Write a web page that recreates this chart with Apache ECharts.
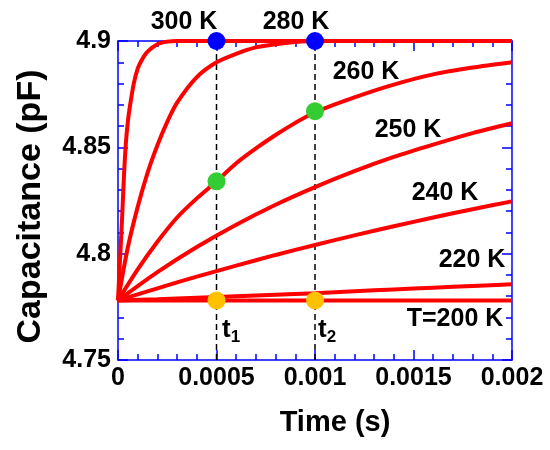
<!DOCTYPE html>
<html>
<head>
<meta charset="utf-8">
<script src="https://cdn.jsdelivr.net/npm/echarts@6/dist/echarts.min.js"></script>
<style>html,body{margin:0;padding:0;background:#fff}#c{width:550px;height:450px}</style>
</head>
<body>
<div id="c"></div>
<script>
// ---- data ----
const xTickLabels = ['0', '0.0005', '0.001', '0.0015', '0.002'];
const yTickLabels = ['4.75', '4.8', '4.85', '4.9'];

const t300 = [0, 0.00001, 0.00002, 0.00003, 0.00004, 0.00005, 0.00006, 0.00008, 0.0001, 0.00012, 0.00015, 0.0002, 0.00025, 0.0003, 0.002];
const c300 = [4.778, 4.797, 4.815, 4.836, 4.852, 4.862, 4.869, 4.880, 4.887, 4.891, 4.895, 4.8985, 4.8997, 4.9, 4.9];

const t280 = [0, 0.00005, 0.0001, 0.00015, 0.0002, 0.00025, 0.0003, 0.0004, 0.0005, 0.0006, 0.0007, 0.0008, 0.0009, 0.001, 0.0012, 0.002];
const c280 = [4.778, 4.803, 4.822, 4.838, 4.851, 4.862, 4.871, 4.883, 4.890, 4.894, 4.897, 4.8985, 4.8995, 4.9, 4.9, 4.9];

const t260 = [0, 0.0001, 0.0002, 0.0003, 0.0004, 0.0005, 0.0006, 0.0007, 0.0008, 0.0009, 0.001, 0.0012, 0.0014, 0.0016, 0.0018, 0.002];
const c260 = [4.778, 4.7926, 4.8056, 4.817, 4.826, 4.834, 4.8425, 4.8495, 4.8558, 4.8615, 4.8665, 4.8735, 4.8795, 4.8843, 4.8875, 4.890];

const t250 = [0, 0.0002, 0.0004, 0.0006, 0.0008, 0.001, 0.0012, 0.0014, 0.0016, 0.0018, 0.002];
const c250 = [4.778, 4.7913, 4.8031, 4.8136, 4.823, 4.8313, 4.8388, 4.8455, 4.8513, 4.8567, 4.8613];

const t240 = [0, 0.0002, 0.0004, 0.0006, 0.0008, 0.001, 0.0012, 0.0014, 0.0016, 0.0018, 0.002];
const c240 = [4.778, 4.7837, 4.7892, 4.7944, 4.7994, 4.8041, 4.8086, 4.8129, 4.817, 4.8209, 4.8246];

const t220 = [0, 0.0002, 0.0004, 0.0006, 0.0008, 0.001, 0.0012, 0.0014, 0.0016, 0.0018, 0.002];
const c220 = [4.778, 4.7786, 4.7793, 4.7800, 4.7807, 4.7814, 4.7823, 4.7832, 4.7840, 4.7848, 4.7856];

const t200 = [0, 0.002];
const c200 = [4.778, 4.778];

const markTimes = [0.0005, 0.001];
const blueVals = [4.9, 4.9];
const greenVals = [4.834, 4.867];
const orangeVals = [4.778, 4.778];

const curveLabels = ['300 K', '280 K', '260 K', '250 K', '240 K', '220 K', 'T=200 K'];
const timeMarkLabels = ['1', '2'];

// ---- chart ----
const FONT = '"Liberation Sans", Arial, sans-serif';
const BLUE = '#0000FF';
const Y_MIN = 4.75, Y_MAX = 4.9;
const zip = (xs, ys) => xs.map((x, i) => [x, ys[i]]);

const curves = [[t200, c200], [t220, c220], [t240, c240], [t250, c250], [t260, c260], [t280, c280], [t300, c300]];

const dashSeries = markTimes.map(tt => ({
  type: 'line',
  data: [[tt, Y_MIN], [tt, Y_MAX]],
  showSymbol: false,
  lineStyle: { color: '#000', type: [6, 4], width: 1.5 },
  z: 2,
  silent: true
}));

const lineSeries = curves.map(([t, c]) => ({
  type: 'line',
  data: zip(t, c),
  showSymbol: false,
  smooth: 0.25,
  lineStyle: { color: '#FF0000', width: 4 },
  z: 3,
  silent: true
}));

function dots(vals, color) {
  return {
    type: 'scatter',
    data: zip(markTimes, vals),
    symbolSize: 18,
    itemStyle: { color: color, opacity: 1 },
    clip: false,
    z: 5
  };
}

const baseX = {
  type: 'value', min: 0, max: 0.002, interval: 0.0005,
  axisLine: { show: true, onZero: false, lineStyle: { color: BLUE, width: 1.5 } },
  axisTick: { show: true, inside: true, length: 10, lineStyle: { color: BLUE, width: 1.5 } },
  minorTick: { show: true, splitNumber: 5, length: 6, lineStyle: { color: BLUE, width: 1.5 } },
  splitLine: { show: false }
};
const baseY = {
  type: 'value', min: Y_MIN, max: Y_MAX, interval: 0.05,
  axisLine: { show: true, onZero: false, lineStyle: { color: BLUE, width: 1.5 } },
  axisTick: { show: true, inside: true, length: 10, lineStyle: { color: BLUE, width: 1.5 } },
  minorTick: { show: true, splitNumber: 5, length: 6, lineStyle: { color: BLUE, width: 1.5 } },
  splitLine: { show: false }
};

const labelPos = [[184, 22], [296, 22], [366, 72], [408, 130], [445, 193], [472, 260], [455, 319]];
const tPos = [[222, 330], [318, 330]];

const graphics = curveLabels.map((s, i) => ({
  type: 'text', x: labelPos[i][0], y: labelPos[i][1], z: 10,
  style: { text: s, fill: '#000', font: 'bold 25px ' + FONT, textAlign: 'center', textVerticalAlign: 'middle' }
}));
timeMarkLabels.forEach((s, i) => {
  graphics.push({
    type: 'text', x: tPos[i][0], y: tPos[i][1], z: 10,
    style: {
      rich: {
        t: { fontSize: 26, fontWeight: 'bold', fontFamily: FONT, fill: '#000' },
        s: { fontSize: 17, fontWeight: 'bold', fontFamily: FONT, fill: '#000', padding: [14, 0, 0, 0] }
      },
      text: '{t|t}{s|' + s + '}',
      textVerticalAlign: 'middle'
    }
  });
});

const option = {
  animation: false,
  backgroundColor: '#fff',
  grid: { left: 118, right: 38, top: 41, bottom: 90 },
  xAxis: [
    Object.assign({}, baseX, {
      position: 'bottom',
      name: 'Time (s)', nameLocation: 'middle', nameGap: 48,
      nameTextStyle: { color: '#000', fontSize: 29, fontWeight: 'bold', fontFamily: FONT, padding: [0, 0, 0, 40] },
      axisLabel: {
        color: '#000', fontSize: 25, fontWeight: 'bold', fontFamily: FONT, margin: 6,
        formatter: (v, i) => xTickLabels[i]
      }
    }),
    Object.assign({}, baseX, { position: 'top', axisLabel: { show: false } })
  ],
  yAxis: [
    Object.assign({}, baseY, {
      position: 'left',
      name: 'Capacitance (pF)', nameLocation: 'middle', nameGap: 70, nameRotate: 90,
      nameTextStyle: { color: '#000', fontSize: 34, fontWeight: 'bold', fontFamily: FONT, padding: [0, 12, 0, 0] },
      axisLabel: {
        color: '#000', fontSize: 25, fontWeight: 'bold', fontFamily: FONT, margin: 7,
        formatter: (v, i) => yTickLabels[i]
      }
    }),
    Object.assign({}, baseY, { position: 'right', axisLabel: { show: false } })
  ],
  series: dashSeries.concat(lineSeries, [
    dots(blueVals, '#0000FF'),
    dots(greenVals, '#33CC33'),
    dots(orangeVals, '#FFC000')
  ]),
  graphic: graphics
};

const chart = echarts.init(document.getElementById('c'), null, { renderer: 'canvas' });
chart.setOption(option);
</script>
</body>
</html>
